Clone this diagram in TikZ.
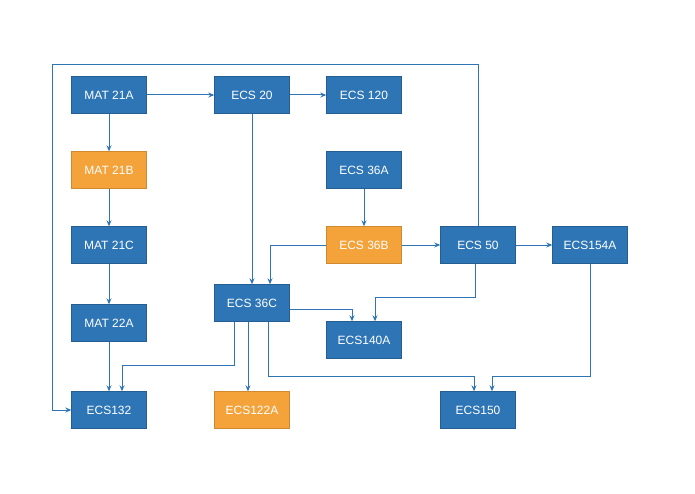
\documentclass[tikz,border=0pt]{standalone}
\usepackage{fontspec}
\setmainfont{Liberation Sans}
\usetikzlibrary{arrows.meta}
\definecolor{bx}{HTML}{2E75B6}
\definecolor{ox}{HTML}{F4A23A}
\begin{document}
\begin{tikzpicture}[x=1pt,y=-1pt,
 b/.style={fill=bx,draw=bx!80!black,line width=0.4pt,minimum width=75pt,minimum height=37pt,text=white,font=\fontsize{12}{14}\selectfont,inner sep=1pt},
 o/.style={b,fill=ox,draw=ox!85!black},
 c/.style={draw=bx,line width=1pt,-{Stealth[length=6pt,width=5pt]}}]
\useasboundingbox (0,0) rectangle (695,494);
\node[b] (m21a) at (109,95) {MAT 21A};
\node[b] (e20) at (252,95) {ECS 20};
\node[b] (e120) at (364,95) {ECS 120};
\node[o] (m21b) at (109,170) {MAT 21B};
\node[b] (e36a) at (364,170) {ECS 36A};
\node[b] (m21c) at (109,245) {MAT 21C};
\node[o] (e36b) at (364,245) {ECS 36B};
\node[b] (e50) at (478,245) {ECS 50};
\node[b] (e154) at (590,245) {ECS154A};
\node[b] (m22a) at (109,323) {MAT 22A};
\node[b] (e36c) at (252,303) {ECS 36C};
\node[b] (e140) at (364,340) {ECS140A};
\node[b] (e132) at (109,410) {ECS132};
\node[o] (e122) at (252,410) {ECS122A};
\node[b] (e150) at (478,410) {ECS150};
\draw[c] (m21a) -- (e20);
\draw[c] (e20) -- (e120);
\draw[c] (m21a) -- (m21b);
\draw[c] (m21b) -- (m21c);
\draw[c] (m21c) -- (m22a);
\draw[c] (m22a) -- (e132);
\draw[c] (e20) -- (e36c);
\draw[c] (e36a) -- (e36b);
\draw[c] (e36b) -- (e50);
\draw[c] (e50) -- (e154);
\draw[c] (e36b.west) -| ([xshift=18pt]e36c.north);
\draw[c] (e50.north) |- (52,65) |- (e132.west);
\draw[c] ([xshift=-3pt]e50.south) |- (375,297) -- ([xshift=11pt]e140.north);
\draw[c] ([yshift=-6pt]e36c.east) -| ([xshift=-12pt]e140.north);
\draw[c] ([xshift=-18pt]e36c.south) |- (122,365) -- ([xshift=13pt]e132.north);
\draw[c] ([xshift=-4pt]e36c.south) -- ([xshift=-4pt]e122.north);
\draw[c] ([xshift=16pt]e36c.south) |- (474,376) -- ([xshift=-4pt]e150.north);
\draw[c] (e154.south) |- (492,376) -- ([xshift=14pt]e150.north);
\end{tikzpicture}
\end{document}
